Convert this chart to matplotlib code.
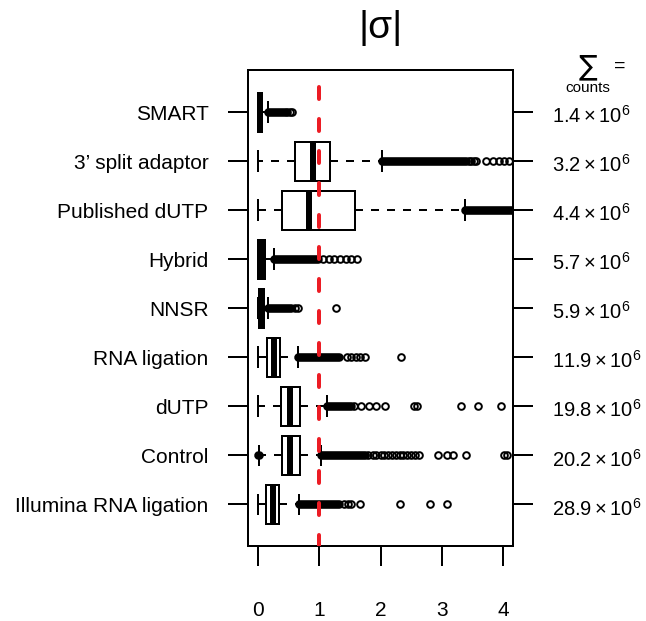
import matplotlib
matplotlib.use("Agg")
import matplotlib.pyplot as plt
import matplotlib.transforms as mtransforms

# ---------------- data ----------------
categories = ["SMART", "3\u2019 split adaptor", "Published dUTP", "Hybrid", "NNSR",
              "RNA ligation", "dUTP", "Control", "Illumina RNA ligation"]
counts_millions = ["1.4", "3.2", "4.4", "5.7", "5.9", "11.9", "19.8", "20.2", "28.9"]

whislo = [0.00, 0.01, 0.01, 0.00, 0.00, 0.01, 0.01, 0.02, 0.01]
q1     = [0.01, 0.60, 0.40, 0.01, 0.02, 0.15, 0.38, 0.40, 0.14]
med    = [0.04, 0.90, 0.84, 0.06, 0.06, 0.26, 0.53, 0.53, 0.24]
q3     = [0.07, 1.17, 1.59, 0.11, 0.10, 0.36, 0.69, 0.68, 0.35]
whishi = [0.16, 2.02, 3.37, 0.26, 0.17, 0.66, 1.13, 1.03, 0.67]

# outlier stretches so dense that the circles merge into a solid band (start, end)
dense_outliers = [
    [(0.16, 0.44)],
    [(2.02, 3.40)],
    [(3.37, 4.30)],
    [(0.26, 0.98)],
    [(0.17, 0.54)],
    [(0.66, 1.33)],
    [(1.13, 1.52)],
    [(0.00, 0.015), (1.03, 1.75)],
    [(0.67, 1.33)],
]
# individually visible outliers
sparse_outliers = [
    [0.47, 0.52, 0.56],
    [3.44, 3.48, 3.52, 3.56, 3.72, 3.83, 3.93, 4.02, 4.10],
    [],
    [1.07, 1.16, 1.25, 1.34, 1.43, 1.52, 1.61],
    [0.60, 0.65, 1.27],
    [1.45, 1.52, 1.60, 1.67, 1.75, 2.34],
    [1.57, 1.68, 1.82, 1.93, 2.07, 2.55, 2.60, 3.31, 3.59, 3.97],
    [1.80, 1.87, 1.93, 2.00, 2.06, 2.12, 2.18, 2.25, 2.31, 2.37, 2.43, 2.50,
     2.56, 2.62, 2.93, 3.08, 3.19, 3.39, 4.02, 4.06],
    [1.41, 1.47, 1.52, 1.66, 2.32, 2.80, 3.09],
]
x_ticks = [0, 1, 2, 3, 4]
threshold = 1

# ---------------- style ----------------
plt.rcParams["font.family"] = ["Liberation Sans", "DejaVu Sans"]
plt.rcParams["mathtext.fontset"] = "custom"
plt.rcParams["mathtext.rm"] = "Liberation Sans"
plt.rcParams["mathtext.it"] = "Liberation Sans:italic"
plt.rcParams["mathtext.bf"] = "Liberation Sans:bold"

W, H, DPI = 646, 621, 100
PX = 72.0 / DPI  # points per pixel

fig = plt.figure(figsize=(W / DPI, H / DPI), dpi=DPI)
ax_l, ax_r, ax_t, ax_b = 248, 513, 70, 546
ax = fig.add_axes([ax_l / W, 1 - ax_b / H, (ax_r - ax_l) / W, (ax_b - ax_t) / H])

n = len(categories)
positions = [n - i for i in range(n)]

stats = []
for i in range(n):
    stats.append(dict(med=med[i], q1=q1[i], q3=q3[i],
                      whislo=whislo[i], whishi=whishi[i], fliers=[]))

lw = 2 * PX
common = dict(positions=positions, widths=0.8, patch_artist=True, showfliers=False,
              capwidths=0.4,
              boxprops=dict(facecolor="white", edgecolor="black", linewidth=lw),
              medianprops=dict(color="black", linewidth=6 * PX, solid_capstyle="butt"),
              whiskerprops=dict(color="black", linewidth=lw, linestyle=(0, (4, 4))),
              capprops=dict(color="black", linewidth=lw))
try:
    ax.bxp(stats, orientation="horizontal", **common)
except TypeError:
    ax.bxp(stats, vert=False, **common)

for i in range(n):
    y = positions[i]
    for a, b in dense_outliers[i]:
        ax.plot([a, b], [y, y], color="black", lw=6.2, solid_capstyle="round", zorder=3)
    xs = sparse_outliers[i]
    if xs:
        ax.plot(xs, [y] * len(xs), linestyle="none", marker="o", mfc="none",
                mec="black", ms=4.8, mew=1.4, zorder=3)

ax.axvline(threshold, color="#ec1c24", lw=4 * PX, linestyle=(0.25, (3, 5)),
           dash_capstyle="round", zorder=5)

ax.set_xlim(-0.16, 4.16)
ax.set_ylim(0.15, 9.86)

ax.set_xticks(x_ticks)
ax.set_xticklabels([str(t) for t in x_ticks])
ax.set_yticks(positions)
ax.set_yticklabels(categories)
ax.tick_params(axis="x", direction="out", length=20 * PX, width=lw, labelsize=15, pad=25)
ax.tick_params(axis="y", direction="out", length=20 * PX, width=lw, labelsize=15, pad=14,
               right=True)
for s in ax.spines.values():
    s.set_linewidth(lw)

# right-hand count labels
xr = (551.7 - ax_l) / (ax_r - ax_l)
trans = mtransforms.blended_transform_factory(ax.transAxes, ax.transData)
trans = mtransforms.offset_copy(trans, fig=fig, x=0, y=-11 * PX, units="points")
for i in range(n):
    ax.text(xr, positions[i], r"$%s\times10^{6}$" % counts_millions[i],
            transform=trans, ha="left", va="baseline", fontsize=14.5, clip_on=False)

def fpos(x, y):
    return x / W, 1 - y / H

fig.text(*fpos(381, 28), "|\u03c3|", ha="center", va="center", fontsize=28)
fig.text(*fpos(588, 66), "\u2211", ha="center", va="center", fontsize=20,
         family=["DejaVu Sans"])
fig.text(*fpos(620, 66), "=", ha="center", va="center", fontsize=14)
fig.text(*fpos(588, 88), "counts", ha="center", va="center", fontsize=11)

fig.savefig("out.png", dpi=DPI)
